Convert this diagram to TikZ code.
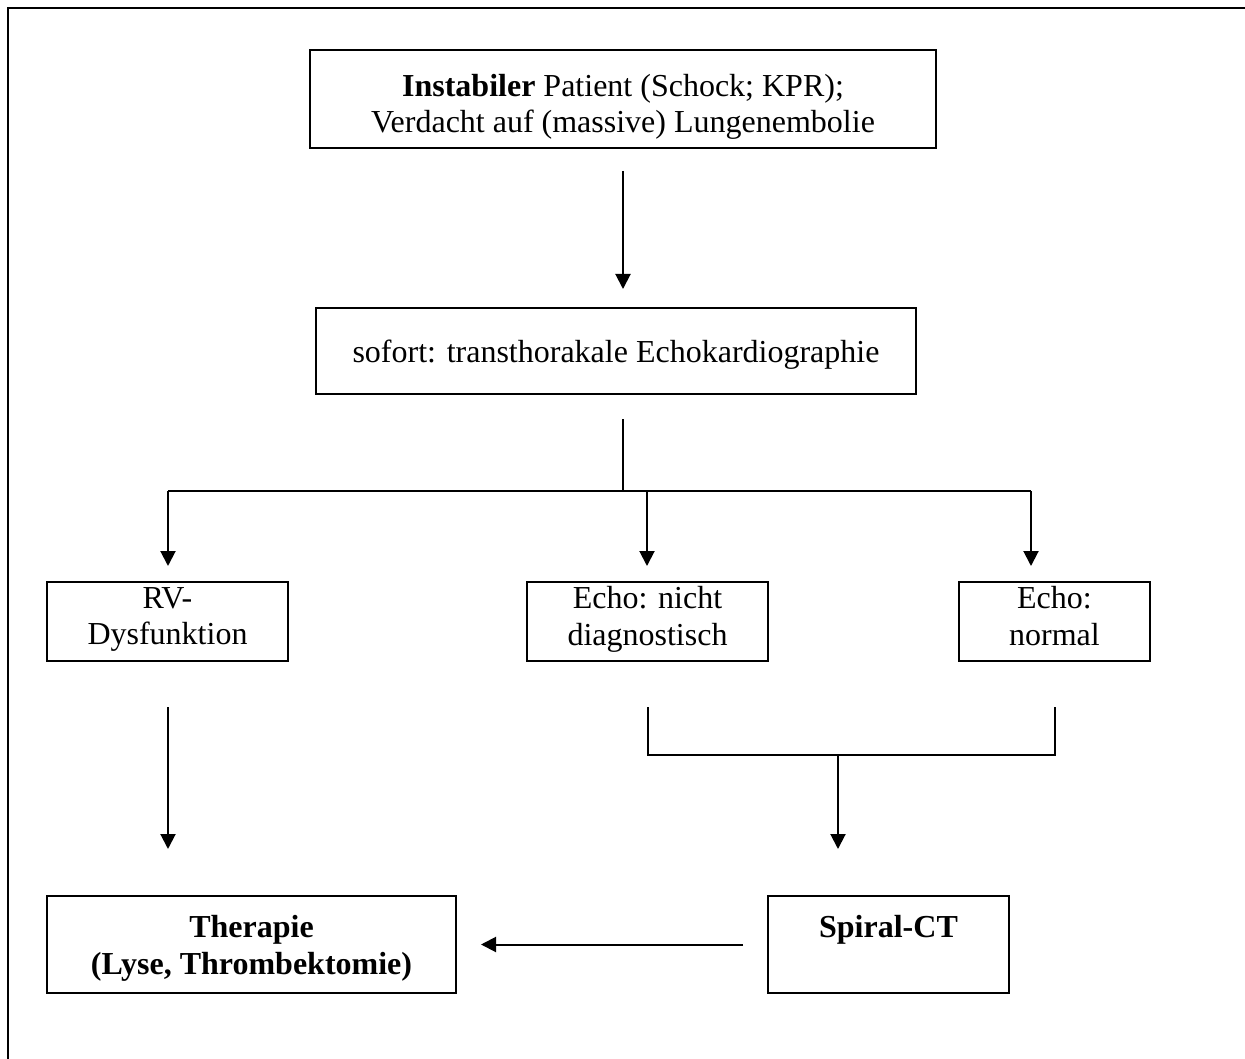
\documentclass[tikz,border=0pt]{standalone}
\usepackage{fontspec}
\setmainfont{Liberation Serif}
\usetikzlibrary{arrows.meta}
\tikzset{
  x=1pt, y=-1pt,
  box/.style={draw, line width=2pt, inner sep=0pt, align=center,
    font=\fontsize{32}{36.8}\selectfont},
  conn/.style={line width=2pt},
  arr/.style={conn, -{Triangle[length=15pt,width=15pt]}},
}
\newcommand{\pushdown}[1]{\rule{0pt}{#1}}
\begin{document}
\begin{tikzpicture}
\useasboundingbox (0,0) rectangle (1245,1059);
% outer frame (top and left only visible)
\draw[line width=2.4pt] (8,1062) -- (8,8) -- (1248,8);

\node[box, minimum width=626pt, minimum height=98pt] (top) at (623,99)
  {\pushdown{38pt}\textbf{Instabiler} Patient (Schock; KPR);\\Verdacht auf (massive) Lungenembolie};
\node[box, minimum width=600pt, minimum height=86pt] (echo) at (616,351)
  {\pushdown{30pt}sofort: transthorakale Echokardiographie};
\node[box, minimum width=241pt, minimum height=79pt] (rv) at (167.5,621.5)
  {RV-\\Dysfunktion\strut};
\node[box, minimum width=241pt, minimum height=79pt] (nd) at (647.5,621.5)
  {Echo: nicht\\diagnostisch\strut};
\node[box, minimum width=191pt, minimum height=79pt] (nor) at (1054.5,621.5)
  {Echo:\\normal\strut};
\node[box, minimum width=409pt, minimum height=97pt] (ther) at (251.5,944.5)
  {\pushdown{34pt}\textbf{Therapie}\\\textbf{(Lyse, Thrombektomie)}\strut};
\node[box, minimum width=241pt, minimum height=97pt] (ct) at (888.5,944.5)
  {\pushdown{34pt}\textbf{Spiral-CT}\\\strut};

\coordinate (j1) at (623,491);
\coordinate (jl) at (168,491);
\coordinate (jm) at (647,491);
\coordinate (jr) at (1031,491);
\coordinate (bm) at (838,755);

\draw[arr, shorten <=22pt, shorten >=18pt] (top.south) -- (top.south |- echo.north);
\draw[conn] (j1 |- echo.south) ++(0,24) -- (j1);
\draw[conn] (jl) -- (jr);
\draw[arr, shorten >=15pt] (jl) -- (jl |- rv.north);
\draw[arr, shorten >=15pt] (jm) -- (jm |- nd.north);
\draw[arr, shorten >=15pt] (jr) -- (jr |- nor.north);

\draw[arr, shorten <=45pt, shorten >=46pt] (jl |- rv.south) -- (jl |- ther.north);
\draw[conn] (nd.south) ++(0,45) -- (bm -| nd.south) -- (bm -| nor.south) -- ++(0,-48);
\draw[arr, shorten >=46pt] (bm) -- (bm |- ct.north);
\draw[arr, shorten <=24pt, shorten >=24pt] (ct.west) -- (ther.east);
\end{tikzpicture}
\end{document}
